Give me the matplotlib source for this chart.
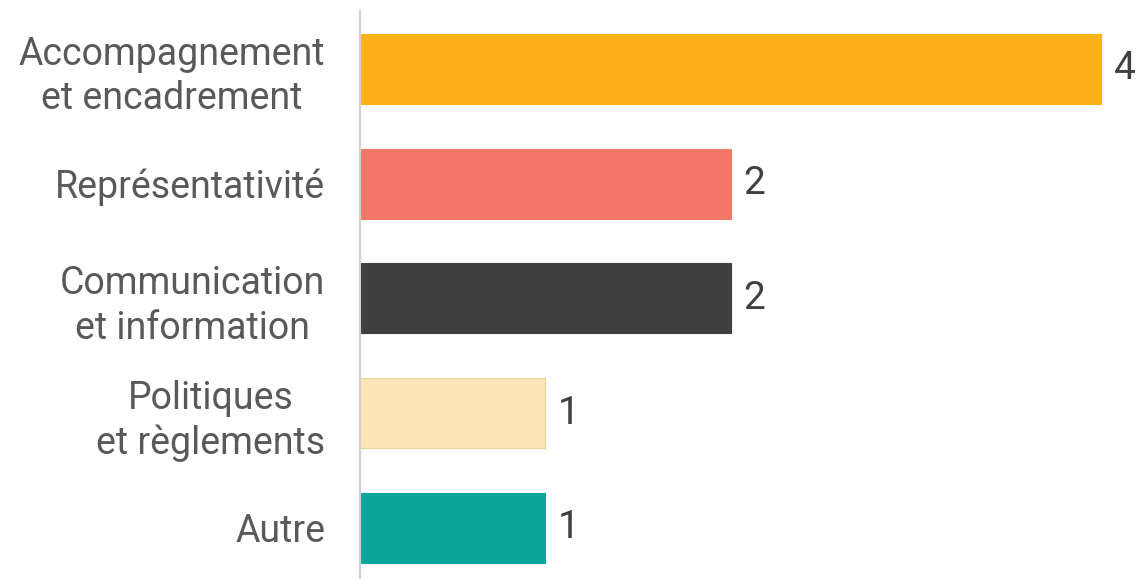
import matplotlib
matplotlib.use("Agg")
import matplotlib.pyplot as plt

categories = ["Accompagnement\net encadrement", "Représentativité",
              "Communication\net information", "Politiques\net règlements", "Autre"]
values = [4, 2, 2, 1, 1]
colors = ["#FBB117", "#F4786A", "#404040", "#FCE6B7", "#0BA69B"]
edges = ["#FBB117", "#F4786A", "#404040", "#E8D3A0", "#0BA69B"]

plt.rcParams['font.family'] = ['Roboto', 'DejaVu Sans']
fig = plt.figure(figsize=(11.4, 5.8), dpi=100)
ax = fig.add_axes([360/1140, 2/580, 780/1140, 568/580])
ypos = list(range(len(categories)))
ax.barh(ypos, values, height=0.61, color=colors, edgecolor=edges, linewidth=0.8)
ax.set_xlim(0, 780/185.25)
ax.set_ylim(4 + 0.436, -0.514)
ax.set_yticks(ypos)
ax.set_yticklabels(categories, fontsize=27, color="#595959", linespacing=1.25,
                   multialignment='center')
ax.tick_params(axis='y', length=0, pad=25)
ax.set_xticks([])
for s in ["top", "right", "bottom"]:
    ax.spines[s].set_visible(False)
ax.spines["left"].set_color("#D0D0D0")
ax.spines["left"].set_linewidth(1.5)
for y, v in zip(ypos, values):
    ax.text(v + 0.07, y, str(v), va="center", ha="left", fontsize=28, color="#404040")
fig.savefig("out.png", dpi=100)
